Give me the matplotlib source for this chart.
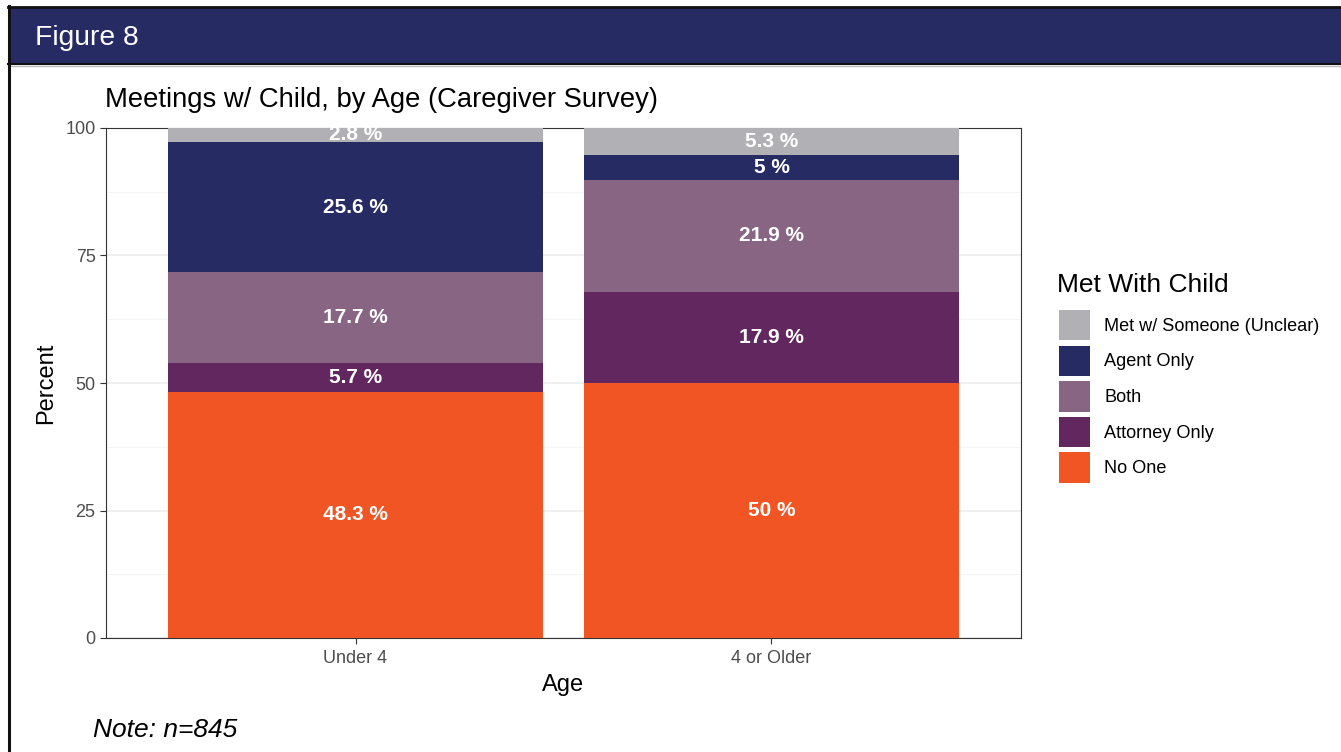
import matplotlib
matplotlib.use("Agg")
import matplotlib.pyplot as plt
from matplotlib.patches import Rectangle, Patch
from matplotlib.lines import Line2D

plt.rcParams['font.family'] = ['Liberation Sans', 'DejaVu Sans']

categories = ["Under 4", "4 or Older"]
series_names = ["No One", "Attorney Only", "Both", "Agent Only", "Met w/ Someone (Unclear)"]
series_values = {
    "No One": [48.3, 50.0],
    "Attorney Only": [5.7, 17.9],
    "Both": [17.7, 21.9],
    "Agent Only": [25.6, 5.0],
    "Met w/ Someone (Unclear)": [2.8, 5.3],
}
label_texts = {
    "No One": ["48.3 %", "50 %"],
    "Attorney Only": ["5.7 %", "17.9 %"],
    "Both": ["17.7 %", "21.9 %"],
    "Agent Only": ["25.6 %", "5 %"],
    "Met w/ Someone (Unclear)": ["2.8 %", "5.3 %"],
}
colors = {
    "No One": "#F05523",
    "Attorney Only": "#62275E",
    "Both": "#886683",
    "Agent Only": "#272B63",
    "Met w/ Someone (Unclear)": "#B1B0B5",
}
yticks = [0, 25, 50, 75, 100]

W, H = 1341, 752
fig = plt.figure(figsize=(W / 100, H / 100), dpi=100)
fig.patch.set_facecolor("white")

# Header banner
fig.patches.append(Rectangle((8 / W, 1 - 64 / H), 1 - 8 / W, 57 / H, transform=fig.transFigure,
                             facecolor="#272B63", edgecolor="none", zorder=0))
fig.lines.append(Line2D([8 / W, 1], [1 - 7 / H, 1 - 7 / H], transform=fig.transFigure, color="#111111", lw=2))
fig.lines.append(Line2D([8 / W, 1], [1 - 64 / H, 1 - 64 / H], transform=fig.transFigure, color="#111111", lw=1.5))
fig.lines.append(Line2D([8 / W, 1], [1 - 66 / H, 1 - 66 / H], transform=fig.transFigure, color="#BBBBBB", lw=1))
fig.lines.append(Line2D([9 / W, 9 / W], [0, 1 - 6 / H], transform=fig.transFigure, color="#111111", lw=2.2))
fig.text(35 / W, 1 - 38 / H, "Figure 8", color="white", fontsize=20.3, va="center", ha="left")

ax = fig.add_axes([106 / W, 1 - 638 / H, (1021 - 106) / W, (638 - 128) / H])
ax.set_facecolor("white")
x = list(range(len(categories)))
bottoms = [0.0] * len(categories)
for name in series_names:
    vals = series_values[name]
    ax.bar(x, vals, width=0.9, bottom=bottoms, color=colors[name], zorder=3, linewidth=0)
    for i, v in enumerate(vals):
        ax.text(x[i], bottoms[i] + v / 2, label_texts[name][i], color="white", fontsize=15,
                fontweight="bold", ha="center", va="center", zorder=4)
    bottoms = [b + v for b, v in zip(bottoms, vals)]

ax.set_xlim(-0.6, len(categories) - 0.4)
ax.set_ylim(0, 100)
ax.set_yticks(yticks)
ax.set_yticks([12.5, 37.5, 62.5, 87.5], minor=True)
ax.set_xticks(x)
ax.set_xticklabels(categories)
ax.grid(True, which="major", color="#EBEBEB", lw=1.1, zorder=0)
ax.grid(True, which="minor", axis="y", color="#F3F3F3", lw=0.6, zorder=0)
ax.tick_params(axis="both", which="major", colors="#333333", labelcolor="#4D4D4D", labelsize=13, length=4, width=0.8)
ax.tick_params(axis="x", which="major", pad=4.5)
ax.tick_params(axis="both", which="minor", length=0)
for s in ax.spines.values():
    s.set_color("#333333")
    s.set_linewidth(0.8)

ax.set_title("Meetings w/ Child, by Age (Caregiver Survey)", loc="left", fontsize=19.7, pad=15, x=-0.001)
ax.set_ylabel("Percent", fontsize=17, labelpad=6)
ax.set_xlabel("Age", fontsize=17, labelpad=5)

handles = [Patch(facecolor=colors[n], edgecolor="none") for n in reversed(series_names)]
leg = ax.legend(handles, list(reversed(series_names)), loc="upper left",
                bbox_to_anchor=(1059 / W, 1 - 310 / H), bbox_transform=fig.transFigure,
                frameon=False, fontsize=13.1, handlelength=1.7, handleheight=2.2,
                labelspacing=0.28, handletextpad=0.78, borderpad=0, borderaxespad=0)
fig.text(1057 / W, 1 - 285 / H, "Met With Child", fontsize=19, va="center", ha="left")

fig.text(93 / W, 1 - 730 / H, "Note: n=845", fontsize=19, style="italic", va="center", ha="left")

fig.savefig("out.png", dpi=100)
